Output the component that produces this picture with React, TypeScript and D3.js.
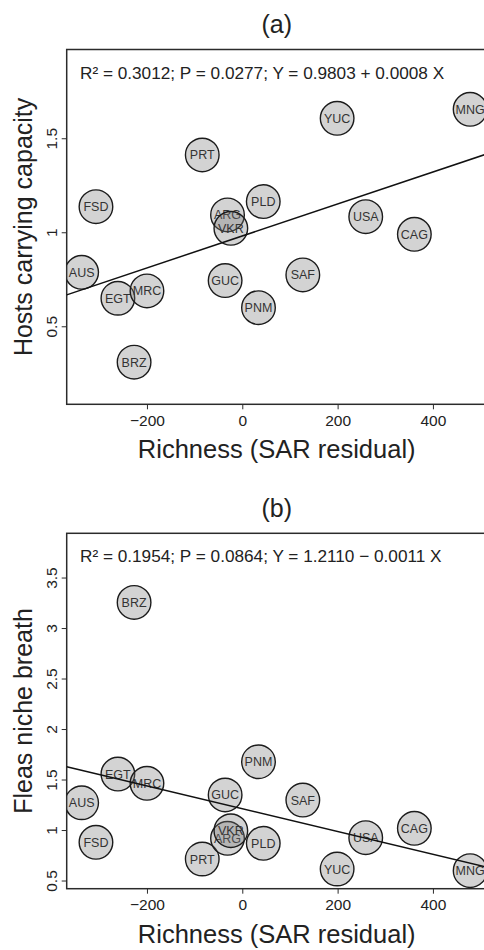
import React, { useRef, useEffect } from 'react'
import * as d3 from 'd3'

// site codes, same order in both panels
const sites = ['AUS', 'FSD', 'EGT', 'BRZ', 'MRC', 'PRT', 'GUC', 'ARG', 'VKR', 'PNM', 'PLD', 'SAF', 'YUC', 'USA', 'CAG', 'MNG']
const richness = [-337, -307, -261, -227, -200, -84, -36, -31, -24, 34, 44, 127, 199, 259, 361, 478]
const hostsCapacity = [0.787, 1.136, 0.649, 0.309, 0.688, 1.411, 0.743, 1.092, 1.021, 0.599, 1.163, 0.773, 1.606, 1.083, 0.989, 1.654]
const fleasNiche = [1.27, 0.878, 1.554, 3.254, 1.462, 0.713, 1.347, 0.918, 0.993, 1.676, 0.868, 1.297, 0.614, 0.924, 1.017, 0.597]

const xTicks = [-200, 0, 200, 400]
const yTicksA = [0.5, 1, 1.5]
const yTicksB = [0.5, 1, 1.5, 2, 2.5, 3, 3.5]

const fitA = { intercept: 0.9803, slope: 0.00085 }
const fitB = { intercept: 1.211, slope: -0.00113 }

const statsA = 'R² = 0.3012; P = 0.0277; Y = 0.9803 + 0.0008 X'
const statsB = 'R² = 0.1954; P = 0.0864; Y = 1.2110 − 0.0011 X'

const FONT = "'Liberation Sans', Arial, sans-serif"

const App = () => {
	const svgRef = useRef<SVGSVGElement>(null)

	useEffect(() => {
		const svg = d3.select(svgRef.current)
		svg.selectAll('*').remove()

		const width = 484
		const height = 950
		svg.attr('width', width).attr('height', height)

		const xScale = d3.scaleLinear().domain([-368.4, 512.8]).range([66.7, 486.7])

		const panels = [
			{
				title: '(a)',
				yLabel: 'Hosts carrying capacity',
				stats: statsA,
				values: hostsCapacity,
				yTicks: yTicksA,
				fit: fitA,
				top: 49.5,
				bottom: 404.3,
				yDomain: [0.085, 1.972],
			},
			{
				title: '(b)',
				yLabel: 'Fleas niche breath',
				stats: statsB,
				values: fleasNiche,
				yTicks: yTicksB,
				fit: fitB,
				top: 533.3,
				bottom: 888.7,
				yDomain: [0.419, 3.938],
			},
		]

		panels.forEach((p, i) => {
			const g = svg.append('g')
			const yScale = d3.scaleLinear().domain(p.yDomain).range([p.bottom, p.top])
			const [x0, x1] = xScale.range()

			const clipId = `clip-${i}`
			g.append('clipPath')
				.attr('id', clipId)
				.append('rect')
				.attr('x', x0)
				.attr('y', p.top)
				.attr('width', x1 - x0)
				.attr('height', p.bottom - p.top)

			// box
			g.append('rect')
				.attr('x', x0)
				.attr('y', p.top)
				.attr('width', x1 - x0)
				.attr('height', p.bottom - p.top)
				.attr('fill', 'none')
				.attr('stroke', '#2b2b2b')
				.attr('stroke-width', 1.5)

			// x axis
			const xAxis = d3.axisBottom(xScale).tickValues(xTicks).tickSize(5).tickSizeOuter(0).tickFormat(d => d3.format('')(d).replace('-', '−'))
			const gx = g.append('g').attr('transform', `translate(0, ${p.bottom})`).call(xAxis)
			gx.select('.domain').remove()
			gx.selectAll('line').attr('stroke', '#2b2b2b').attr('stroke-width', 1)
			gx.selectAll('text')
				.attr('y', 21.5)
				.attr('dy', 0)
				.attr('fill', '#222')
				.style('font-family', FONT)
				.style('font-size', '15.5px')

			// y axis, labels turned
			const yAxis = d3.axisLeft(yScale).tickValues(p.yTicks).tickSize(5).tickSizeOuter(0).tickFormat(d3.format(''))
			const gy = g.append('g').attr('transform', `translate(${x0}, 0)`).call(yAxis)
			gy.select('.domain').remove()
			gy.selectAll('line').attr('stroke', '#2b2b2b').attr('stroke-width', 1)
			gy.selectAll('text')
				.attr('transform', 'rotate(-90)')
				.attr('x', 0)
				.attr('y', -10)
				.attr('dy', 0)
				.attr('text-anchor', 'middle')
				.attr('fill', '#222')
				.style('font-family', FONT)
				.style('font-size', '15.5px')

			// titles
			g.append('text')
				.attr('x', (x0 + x1) / 2)
				.attr('y', p.top - 16.5)
				.attr('text-anchor', 'middle')
				.attr('fill', '#222')
				.style('font-family', FONT)
				.style('font-size', '25px')
				.text(p.title)

			g.append('text')
				.attr('transform', `translate(31.7, ${(p.top + p.bottom) / 2}) rotate(-90)`)
				.attr('text-anchor', 'middle')
				.attr('fill', '#222')
				.style('font-family', FONT)
				.style('font-size', '25px')
				.text(p.yLabel)

			g.append('text')
				.attr('x', (x0 + x1) / 2)
				.attr('y', p.bottom + 54)
				.attr('text-anchor', 'middle')
				.attr('fill', '#222')
				.style('font-family', FONT)
				.style('font-size', '25.5px')
				.text('Richness (SAR residual)')

			g.append('text')
				.attr('x', 80)
				.attr('y', p.top + 29)
				.attr('fill', '#222')
				.style('font-family', FONT)
				.style('font-size', '17.2px')
				.text(p.stats)

			// points
			const plot = g.append('g').attr('clip-path', `url(#${clipId})`)
			sites.forEach((s, k) => {
				const cx = xScale(richness[k])
				const cy = yScale(p.values[k])
				plot.append('circle')
					.attr('cx', cx)
					.attr('cy', cy)
					.attr('r', 16.8)
					.attr('fill', 'rgba(120,120,120,0.33)')
					.attr('stroke', '#1c1c1c')
					.attr('stroke-width', 1.4)
				plot.append('text')
					.attr('x', cx)
					.attr('y', cy)
					.attr('dy', '0.36em')
					.attr('text-anchor', 'middle')
					.attr('fill', '#333')
					.style('font-family', FONT)
					.style('font-size', '12.5px')
					.text(s)
			})

			// regression line
			const [d0, d1] = xScale.domain()
			const line = d3
				.line<number>()
				.x(d => xScale(d))
				.y(d => yScale(p.fit.intercept + p.fit.slope * d))
			plot.append('path')
				.datum([d0, d1])
				.attr('fill', 'none')
				.attr('stroke', '#111')
				.attr('stroke-width', 1.5)
				.attr('d', line)
		})
	}, [])

	return <svg ref={svgRef} style={{ position: 'absolute', left: 0, top: 0, background: '#fff' }}></svg>
}

export default App
